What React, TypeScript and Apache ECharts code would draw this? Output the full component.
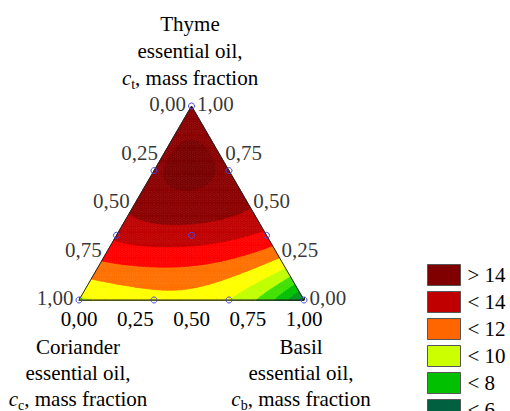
import React, { useEffect, useRef } from 'react';
import * as echarts from 'echarts';

const H = Math.sqrt(3) / 2;
const FONT = "'Liberation Serif', 'Times New Roman', serif";

// Response at ternary lattice points (fractions in sixths; basil = 6 - thyme - coriander)
const latticeThyme = [6, 5, 5, 4, 4, 4, 3, 3, 3, 3, 2, 2, 2, 2, 2, 1, 1, 1, 1, 1, 1, 0, 0, 0, 0, 0, 0, 0];
const latticeCoriander = [0, 1, 0, 2, 1, 0, 3, 2, 1, 0, 4, 3, 2, 1, 0, 5, 4, 3, 2, 1, 0, 6, 5, 4, 3, 2, 1, 0];
const latticeResponse = [
  14.5,
  14.75, 14.75,
  14.8, 15.3, 14.8,
  14.25, 14.65, 14.65, 14.05,
  13.3, 13.45, 13.45, 13.2, 12.85,
  11.6, 11.85, 12.05, 12.0, 11.0, 10.0,
  9.75, 10.45, 10.55, 10.55, 10.1, 8.4, 5.5,
];

// Experimental design points (in thirds)
const designThyme = [3, 0, 0, 2, 1, 2, 1, 0, 0, 1];
const designCoriander = [0, 3, 0, 1, 2, 0, 0, 2, 1, 1];

// Contour levels and band colours
const contourLevels = [5, 6, 7, 8, 9, 10, 11, 12, 13, 14, 15];
const bandColors = ['#004830', '#006040', '#009820', '#00C000', '#40E000', '#C0FF00', '#FFFF00', '#FF7000', '#FF0000', '#C00000', '#8B0000', '#780000'];

// Legend
const legendNames = ['> 14', '< 14', '< 12', '< 10', '< 8', '< 6'];
const legendColors = ['#800000', '#C00000', '#FF6600', '#CCFF00', '#00C000', '#006040'];

// Axis tick values
const tickValues = [0, 0.25, 0.5, 0.75, 1];

const fmt = (v: number) => v.toFixed(2).replace('.', ',');

function basis(t: number, b: number): number[] {
  const out: number[] = [];
  for (let i = 0; i <= 4; i++) for (let j = 0; j <= 4 - i; j++) out.push(Math.pow(t, i) * Math.pow(b, j));
  return out;
}

function fitSurface(): number[] {
  const rows = latticeResponse.map((_, k) =>
    basis(latticeThyme[k] / 6, (6 - latticeThyme[k] - latticeCoriander[k]) / 6)
  );
  const m = rows[0].length;
  const A: number[][] = Array.from({ length: m }, () => new Array(m + 1).fill(0));
  rows.forEach((r, k) => {
    for (let i = 0; i < m; i++) {
      for (let j = 0; j < m; j++) A[i][j] += r[i] * r[j];
      A[i][m] += r[i] * latticeResponse[k];
    }
  });
  for (let c = 0; c < m; c++) {
    let p = c;
    for (let r = c + 1; r < m; r++) if (Math.abs(A[r][c]) > Math.abs(A[p][c])) p = r;
    const tmp = A[c]; A[c] = A[p]; A[p] = tmp;
    for (let r = 0; r < m; r++) {
      if (r === c) continue;
      const f = A[r][c] / A[c][c];
      for (let k = c; k <= m; k++) A[r][k] -= f * A[c][k];
    }
  }
  return A.map((row, i) => row[m] / row[i]);
}

type P = { x: number; y: number; v: number };

function clipPoly(poly: P[], level: number, above: boolean): P[] {
  const out: P[] = [];
  const inside = (p: P) => (above ? p.v >= level : p.v <= level);
  for (let k = 0; k < poly.length; k++) {
    const a = poly[k];
    const b = poly[(k + 1) % poly.length];
    const ia = inside(a);
    const ib = inside(b);
    if (ia) out.push(a);
    if (ia !== ib) {
      const s = (level - a.v) / (b.v - a.v);
      out.push({ x: a.x + s * (b.x - a.x), y: a.y + s * (b.y - a.y), v: level });
    }
  }
  return out;
}

function buildBands(): P[][][] {
  const coef = fitSurface();
  const model = (t: number, b: number) => basis(t, b).reduce((s, v, i) => s + v * coef[i], 0);
  const N = 60;
  const node = (i: number, j: number): P => {
    const t = i / N;
    const b = j / N;
    return { x: b + t / 2, y: t * H, v: model(t, b) };
  };
  const nodes: P[][] = [];
  for (let i = 0; i <= N; i++) {
    const row: P[] = [];
    for (let j = 0; j <= N - i; j++) row.push(node(i, j));
    nodes.push(row);
  }
  const tris: P[][] = [];
  for (let i = 0; i < N; i++) {
    for (let j = 0; j < N - i; j++) {
      tris.push([nodes[i][j], nodes[i + 1][j], nodes[i][j + 1]]);
      if (i + j < N - 1) tris.push([nodes[i + 1][j], nodes[i + 1][j + 1], nodes[i][j + 1]]);
    }
  }
  const bands: P[][][] = bandColors.map(() => []);
  tris.forEach((tri) => {
    const vmin = Math.min(tri[0].v, tri[1].v, tri[2].v);
    const vmax = Math.max(tri[0].v, tri[1].v, tri[2].v);
    for (let k = 0; k < bandColors.length; k++) {
      const lo = k === 0 ? -Infinity : contourLevels[k - 1];
      const hi = k === contourLevels.length ? Infinity : contourLevels[k];
      if (vmax < lo || vmin > hi) continue;
      let poly = tri;
      if (vmin < lo) poly = clipPoly(poly, lo, true);
      if (vmax > hi) poly = clipPoly(poly, hi, false);
      if (poly.length >= 3) bands[k].push(poly);
    }
  });
  return bands;
}

const titleStyle = (lh: number) => ({
  fontSize: 21,
  fontFamily: FONT,
  fontWeight: 'normal' as const,
  color: '#000',
  lineHeight: lh,
  rich: {
    i: { fontSize: 21, fontFamily: FONT, fontStyle: 'italic', fontWeight: 'normal', color: '#000', lineHeight: lh },
    s: { fontSize: 14, fontFamily: FONT, fontWeight: 'normal', color: '#000', verticalAlign: 'bottom', lineHeight: 12 },
  },
});

export default function App() {
  const ref = useRef<HTMLDivElement>(null);
  useEffect(() => {
    if (!ref.current) return;
    const chart = echarts.init(ref.current, undefined, { renderer: 'svg' });
    const bands = buildBands();

    const designData = designThyme.map((t3, k) => {
      const t = t3 / 3;
      const c = designCoriander[k] / 3;
      const b = 1 - t - c;
      return [b + t / 2, t * H];
    });
    // Left edge: coriander fraction (b = 0, t = 1 - c)
    const leftData = tickValues.map((c) => {
      const t = 1 - c;
      return [t / 2, t * H];
    });
    // Right edge: thyme fraction (c = 0, b = 1 - t)
    const rightData = tickValues.map((t) => [1 - t / 2, t * H]);

    const labelBase = { show: true, fontSize: 21, fontFamily: FONT, color: '#000', distance: 5, offset: [0, -2] };

    chart.setOption({
      animation: false,
      title: [
        { text: 'Thyme\nessential oil,\n{i|c}{s|t}, mass fraction', left: 190, top: 10, textAlign: 'center', padding: 0, textStyle: titleStyle(27) },
        { text: 'Coriander\nessential oil,\n{i|c}{s|c}, mass fraction', left: 78, top: 334, textAlign: 'center', padding: 0, textStyle: titleStyle(26) },
        { text: 'Basil\nessential oil,\n{i|c}{s|b}, mass fraction', left: 301, top: 334, textAlign: 'center', padding: 0, textStyle: titleStyle(26) },
      ],
      legend: {
        orient: 'vertical',
        left: 427,
        top: 264,
        height: 220,
        padding: 0,
        itemWidth: 33,
        itemHeight: 21,
        itemGap: 5,
        icon: 'rect',
        selectedMode: false,
        data: legendNames,
        itemStyle: { borderColor: '#555', borderWidth: 1, opacity: 1 },
        textStyle: { fontSize: 21, fontFamily: FONT, color: '#000', lineHeight: 21, padding: [0, 0, 0, 2] },
      },
      grid: { left: 79, top: 106, width: 225, height: 194 },
      xAxis: [
        {
          type: 'value', min: 0, max: 1, interval: 1 / 18,
          axisLine: { show: true, lineStyle: { color: '#222', width: 1 } },
          axisTick: { show: true, inside: true, length: 3, lineStyle: { color: '#222' } },
          axisLabel: { show: false },
          splitLine: { show: false },
        },
        {
          type: 'value', min: 0, max: 1, interval: 0.25, position: 'bottom',
          axisLine: { show: false },
          axisTick: { show: false },
          axisLabel: { show: true, margin: 8, fontSize: 21, fontFamily: FONT, color: '#000', showMinLabel: true, showMaxLabel: true, formatter: (v: number) => fmt(v) },
          splitLine: { show: false },
        },
      ],
      yAxis: { type: 'value', min: 0, max: H, show: false },
      series: [
        {
          type: 'custom',
          silent: true,
          coordinateSystem: 'cartesian2d',
          data: bandColors.map((_, k) => [k, 0]),
          renderItem: (_params: any, api: any) => {
            const k = api.value(0);
            const color = bandColors[k];
            return {
              type: 'group',
              children: bands[k].map((poly) => ({
                type: 'polygon',
                shape: { points: poly.map((p) => api.coord([p.x, p.y])) },
                style: { fill: color, stroke: color, lineWidth: 0.6 },
              })),
            };
          },
          z: 1,
        },
        {
          type: 'line',
          silent: true,
          data: [[0, 0], [1, 0], [0.5, H], [0, 0]],
          symbol: 'none',
          lineStyle: { color: '#222', width: 1 },
          z: 3,
        },
        {
          type: 'scatter',
          silent: true,
          data: designData,
          symbol: 'circle',
          symbolSize: 6,
          itemStyle: { color: 'rgba(0,0,0,0)', borderColor: '#4848e0', borderWidth: 1, opacity: 1 },
          z: 4,
        },
        {
          type: 'scatter',
          silent: true,
          data: leftData,
          symbolSize: 1,
          itemStyle: { color: 'rgba(0,0,0,0)' },
          label: { ...labelBase, position: 'left', formatter: (p: any) => fmt(tickValues[p.dataIndex]) },
          z: 5,
        },
        {
          type: 'scatter',
          silent: true,
          data: rightData,
          symbolSize: 1,
          itemStyle: { color: 'rgba(0,0,0,0)' },
          label: { ...labelBase, position: 'right', formatter: (p: any) => fmt(tickValues[p.dataIndex]) },
          z: 5,
        },
        ...legendNames.map((name, k) => ({
          type: 'scatter',
          name,
          data: [],
          itemStyle: { color: legendColors[k], opacity: 1 },
        })),
      ],
    });
    return () => chart.dispose();
  }, []);
  return <div ref={ref} style={{ position: 'absolute', left: 0, top: 0, width: 510, height: 411 }} />;
}
